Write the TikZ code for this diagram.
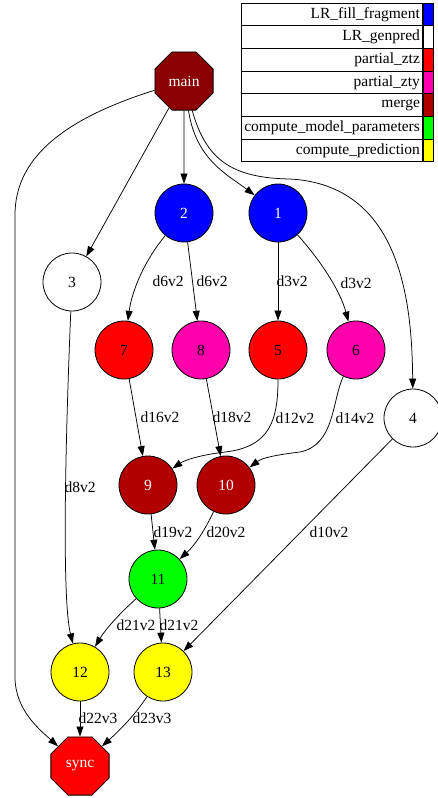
\documentclass[tikz,border=0pt]{standalone}
\usepackage{fontspec}
\setmainfont{Liberation Serif}
\usetikzlibrary{shapes.geometric,arrows.meta}
\definecolor{cblue}{RGB}{0,0,255}
\definecolor{cred}{RGB}{255,0,0}
\definecolor{cpink}{RGB}{255,0,170}
\definecolor{cmerge}{RGB}{178,0,0}
\definecolor{cmain}{RGB}{139,0,0}
\definecolor{cgreen}{RGB}{0,255,0}
\definecolor{cyellow}{RGB}{255,255,0}
\begin{document}
\begin{tikzpicture}[x=1pt,y=-1pt,
  font=\fontsize{15.5}{17}\selectfont,
  gnode/.style={circle, draw, line width=0.8pt, minimum size=58pt, inner sep=0pt},
  oct/.style={regular polygon, regular polygon sides=8, draw, line width=0.8pt, minimum size=63pt, inner sep=0pt, text=white},
  conn/.style={draw, line width=0.75pt, -{Triangle[length=10pt,width=7pt]}},
  lbl/.style={inner sep=0pt},
  legtext/.style={draw, line width=0.8pt, anchor=north west, text width=176pt, minimum height=22.65pt, inner xsep=2.5pt, inner ysep=0pt, align=right},
  legcol/.style={draw, line width=0.8pt, fill=#1, anchor=north west, minimum width=10.5pt, minimum height=22.65pt, inner sep=0pt}
]
\useasboundingbox (0,0) rectangle (438,798);

% legend
\node[legtext] (lt1) at (241,2.7) {LR\_fill\_fragment};
\node[legcol=cblue] (lc1) at (lt1.north east) {};
\node[legtext] (lt2) at (241,25.35) {LR\_genpred};
\node[legcol=white] (lc2) at (lt2.north east) {};
\node[legtext] (lt3) at (241,48) {partial\_ztz};
\node[legcol=cred] (lc3) at (lt3.north east) {};
\node[legtext] (lt4) at (241,70.65) {partial\_zty};
\node[legcol=cpink] (lc4) at (lt4.north east) {};
\node[legtext] (lt5) at (241,93.3) {merge};
\node[legcol=cmerge] (lc5) at (lt5.north east) {};
\node[legtext] (lt6) at (241,115.95) {compute\_model\_parameters};
\node[legcol=cgreen] (lc6) at (lt6.north east) {};
\node[legtext] (lt7) at (241,138.6) {compute\_prediction};
\node[legcol=cyellow] (lc7) at (lt7.north east) {};

% nodes
\node[oct, fill=cmain] (main) at (184,81) {main};
\node[gnode, fill=cblue, text=white] (n2) at (184,213) {2};
\node[gnode, fill=cblue, text=white] (n1) at (278,213) {1};
\node[gnode, fill=white] (n3) at (72,282) {3};
\node[gnode, fill=cred] (n7) at (124,350) {7};
\node[gnode, fill=cpink] (n8) at (201,350) {8};
\node[gnode, fill=cred] (n5) at (278,350) {5};
\node[gnode, fill=cpink] (n6) at (356,350) {6};
\node[gnode, fill=white] (n4) at (413,418) {4};
\node[gnode, fill=cmerge, text=white] (n9) at (148,485) {9};
\node[gnode, fill=cmerge, text=white] (n10) at (226,485) {10};
\node[gnode, fill=cgreen] (n11) at (158,579) {11};
\node[gnode, fill=cyellow] (n12) at (80,672) {12};
\node[gnode, fill=cyellow] (n13) at (163,672) {13};
\node[oct, fill=cred] (sync) at (80,766) {sync};

% edges from main
\draw[conn] (main) -- (n2);
\draw[conn] (main) -- (n3);
\draw[conn] (main) .. controls (196,160) and (228,175) .. (n1);
\draw[conn] (main) .. controls (206,160) and (232,178) .. (290,179) .. controls (400,185) and (412,300) .. (n4);
\draw[conn] (main) .. controls (60,120) and (15,160) .. (15,215) -- (15,677) .. controls (15,710) and (40,730) .. (sync);

% other edges
\draw[conn] (n3) .. controls (65,450) and (62,600) .. (n12);
\draw[conn] (n2) .. controls (145,260) and (132,290) .. (n7);
\draw[conn] (n2) -- (n8);
\draw[conn] (n1) -- (n5);
\draw[conn] (n1) .. controls (320,260) and (340,290) .. (n6);
\draw[conn] (n7) -- (n9);
\draw[conn] (n8) -- (n10);
\draw[conn] (n5) .. controls (278,420) and (270,447) .. (225,452) .. controls (200,455) and (185,460) .. (n9);
\draw[conn] (n6) .. controls (332,400) and (335,445) .. (300,452) .. controls (275,455) and (262,458) .. (n10);
\draw[conn] (n4) -- (n13);
\draw[conn] (n9) -- (n11);
\draw[conn] (n10) .. controls (205,530) and (195,545) .. (n11);
\draw[conn] (n11) .. controls (118,615) and (105,630) .. (n12);
\draw[conn] (n11) -- (n13);
\draw[conn] (n12) -- (sync);
\draw[conn] (n13) .. controls (135,715) and (120,730) .. (sync);

% edge labels
\node[lbl] (l1) at (168,281) {d6v2};
\node[lbl] (l2) at (212,281) {d6v2};
\node[lbl] (l3) at (292,281) {d3v2};
\node[lbl] (l4) at (356,283) {d3v2};
\node[lbl] (l5) at (80,487) {d8v2};
\node[lbl] (l6) at (160,417) {d16v2};
\node[lbl] (l7) at (232,417) {d18v2};
\node[lbl] (l8) at (295,418) {d12v2};
\node[lbl] (l9) at (355,418) {d14v2};
\node[lbl] (l10) at (173,532) {d19v2};
\node[lbl] (l11) at (226,532) {d20v2};
\node[lbl] (l12) at (329,532) {d10v2};
\node[lbl] (l13) at (136,625) {d21v2};
\node[lbl] (l14) at (179,625) {d21v2};
\node[lbl] (l15) at (98,718) {d22v3};
\node[lbl] (l16) at (152,718) {d23v3};
\end{tikzpicture}
\end{document}
